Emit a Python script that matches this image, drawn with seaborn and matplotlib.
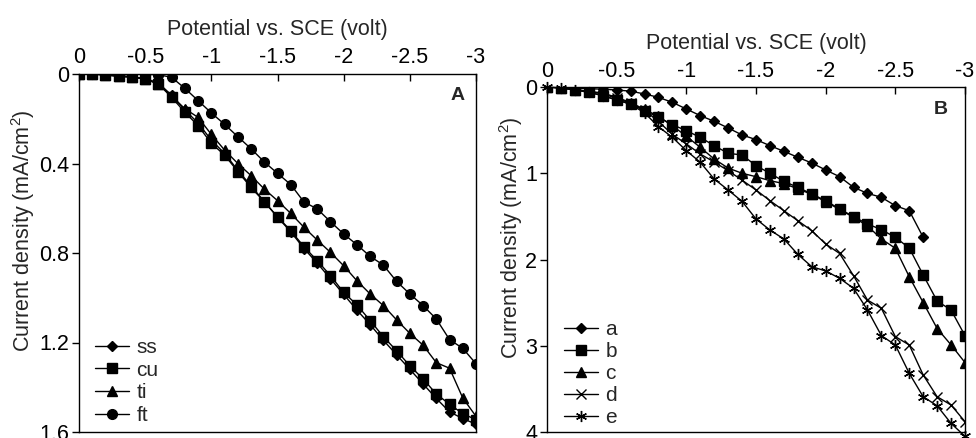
import matplotlib
matplotlib.use("Agg")
import matplotlib.pyplot as plt
import seaborn as sns

# ---------------- data ----------------
potential = [0, -0.1, -0.2, -0.3, -0.4, -0.5, -0.6, -0.7, -0.8, -0.9, -1.0,
             -1.1, -1.2, -1.3, -1.4, -1.5, -1.6, -1.7, -1.8, -1.9, -2.0,
             -2.1, -2.2, -2.3, -2.4, -2.5, -2.6, -2.7, -2.8, -2.9, -3.0]

# Panel A
ss = [0, 0, 0.004, 0.009, 0.013, 0.02, 0.04, 0.095, 0.16, 0.22, 0.295,
      0.355, 0.43, 0.5, 0.57, 0.64, 0.705, 0.78, 0.845, 0.915, 0.985,
      1.055, 1.12, 1.19, 1.255, 1.32, 1.385, 1.45, 1.51, 1.54, 1.565]
cu = [0, 0, 0.005, 0.011, 0.015, 0.022, 0.045, 0.104, 0.171, 0.231, 0.31,
      0.362, 0.436, 0.507, 0.571, 0.638, 0.70, 0.772, 0.834, 0.901, 0.976,
      1.032, 1.102, 1.174, 1.237, 1.304, 1.363, 1.43, 1.476, 1.518, 1.545]
ti = [0, 0, 0.003, 0.008, 0.012, 0.022, 0.045, 0.1, 0.155, 0.194, 0.27,
      0.34, 0.40, 0.454, 0.514, 0.566, 0.623, 0.685, 0.742, 0.797, 0.857,
      0.924, 0.983, 1.035, 1.099, 1.159, 1.212, 1.29, 1.315, 1.448, 1.53]
ft = [0, 0, 0, 0, 0, 0.002, 0.003, 0.015, 0.064, 0.119, 0.174,
      0.225, 0.28, 0.334, 0.393, 0.444, 0.494, 0.572, 0.603, 0.66, 0.715,
      0.763, 0.815, 0.854, 0.927, 0.983, 1.035, 1.095, 1.187, 1.226, 1.295]

# Panel B
a = [0, 0.005, 0.01, 0.02, 0.025, 0.035, 0.048, 0.081, 0.12, 0.178, 0.255,
     0.332, 0.398, 0.475, 0.556, 0.61, 0.68, 0.746, 0.815, 0.881, 0.962,
     1.04, 1.163, 1.233, 1.279, 1.376, 1.434, 1.743]
b = [0, 0.01, 0.035, 0.062, 0.10, 0.15, 0.197, 0.275, 0.352, 0.437, 0.506,
     0.584, 0.68, 0.769, 0.788, 0.912, 1.0, 1.094, 1.163, 1.24, 1.318,
     1.414, 1.503, 1.588, 1.654, 1.743, 1.867, 2.18, 2.481, 2.586, 2.883]
c = [0, 0.01, 0.03, 0.05, 0.07, 0.12, 0.18, 0.26, 0.34, 0.45, 0.57,
     0.70, 0.835, 0.94, 1.0, 1.04, 1.086, 1.12, 1.18, 1.245, 1.33,
     1.42, 1.51, 1.61, 1.762, 1.87, 2.2, 2.5, 2.8, 2.99, 3.195]
d = [0, 0.01, 0.03, 0.05, 0.08, 0.13, 0.19, 0.27, 0.40, 0.55, 0.66,
     0.777, 0.87, 0.97, 1.08, 1.194, 1.318, 1.434, 1.55, 1.666, 1.82,
     1.93, 2.188, 2.47, 2.566, 2.894, 2.991, 3.339, 3.591, 3.687, 3.88]
e = [0, 0.01, 0.03, 0.06, 0.10, 0.15, 0.2, 0.3, 0.46, 0.584, 0.738,
     0.873, 1.067, 1.194, 1.326, 1.53, 1.658, 1.762, 1.94, 2.083, 2.133,
     2.218, 2.334, 2.585, 2.883, 2.991, 3.32, 3.591, 3.696, 3.9, 4.05]

x_ticks = [0, -0.5, -1, -1.5, -2, -2.5, -3]
x_tick_labels = ["0", "-0.5", "-1", "-1.5", "-2", "-2.5", "-3"]
yA_ticks = [0, 0.4, 0.8, 1.2, 1.6]
yA_labels = ["0", "0.4", "0.8", "1.2", "1.6"]
yB_ticks = [0, 1, 2, 3, 4]
yB_labels = ["0", "1", "2", "3", "4"]

# ---------------- style ----------------
sns.set_style("white")
plt.rcParams["font.family"] = ["Liberation Sans", "DejaVu Sans"]
plt.rcParams["mathtext.fontset"] = "custom"
plt.rcParams["mathtext.rm"] = "Liberation Sans"
FS = 15.5
LFS = 15

fig = plt.figure(figsize=(9.76, 4.38), dpi=100)
axA = fig.add_axes([79 / 976, 1 - 432 / 438, (476 - 79) / 976, (432 - 74) / 438])
axB = fig.add_axes([547 / 976, 1 - 432 / 438, (965 - 547) / 976, (432 - 87) / 438])


def series(ax, y, label, marker, ms, mew=1.0, clip=True):
    xs = potential[:len(y)]
    sns.lineplot(x=xs, y=y, ax=ax, color="black", linewidth=1.0,
                 marker=marker, markersize=ms, markeredgewidth=mew,
                 markeredgecolor="black", markerfacecolor="black",
                 label=label, sort=False)
    if not clip:
        ax.lines[-1].set_clip_on(False)


series(axA, ss, "ss", "D", 5.5)
series(axA, cu, "cu", "s", 7)
series(axA, ti, "ti", "^", 7.5)
series(axA, ft, "ft", "o", 7)

series(axB, a, "a", "D", 5.5)
series(axB, b, "b", "s", 7)
series(axB, c, "c", "^", 7.5)
series(axB, d, "d", "x", 6.5, 1.0)
series(axB, e, "e", (6, 2, 0), 8, 1.0, clip=False)


def style(ax, yticks, ylabels, ylim, tag, tagx, tagy, xpad, ylab_x, title_y,
          leg_anchor, lspace):
    ax.set_xlim(0, -3)
    ax.set_ylim(ylim, 0)
    ax.set_xticks(x_ticks)
    ax.set_xticklabels(x_tick_labels, fontsize=FS)
    ax.set_yticks(yticks)
    ax.set_yticklabels(ylabels, fontsize=FS)
    ax.xaxis.tick_top()
    ax.xaxis.set_label_position("top")
    ax.set_xlabel("Potential vs. SCE (volt)", fontsize=FS)
    ax.xaxis.set_label_coords(0.5, title_y)
    ax.set_ylabel("Current density (mA/cm$^2$)", fontsize=FS)
    ax.yaxis.set_label_coords(ylab_x, 0.563)
    ax.tick_params(axis="x", direction="in", length=5, width=1, pad=xpad,
                   top=True, bottom=False, colors="black")
    ax.tick_params(axis="y", direction="out", length=5, width=1, pad=2,
                   left=True, colors="black")
    for sp in ax.spines.values():
        sp.set_color("black")
        sp.set_linewidth(1.0)
        sp.set_visible(True)
    ax.text(tagx, tagy, tag, transform=ax.transAxes, ha="right", va="center",
            fontsize=14, fontweight="bold")
    ax.legend(loc="lower left", frameon=False, fontsize=LFS,
              handlelength=1.65, handletextpad=0.35, labelspacing=lspace,
              borderpad=0.0, borderaxespad=0.0, bbox_to_anchor=leg_anchor)
    ax.grid(False)


style(axA, yA_ticks, yA_labels, 1.6, "A", 0.972, 0.94, 4.5, -0.105, 1.11,
      (0.04, 0.019), 0.18)
style(axB, yB_ticks, yB_labels, 4, "B", 0.959, 0.936, 3.5, -0.052, 1.109,
      (0.04, 0.014), 0.145)

fig.savefig("out.png", dpi=100)
